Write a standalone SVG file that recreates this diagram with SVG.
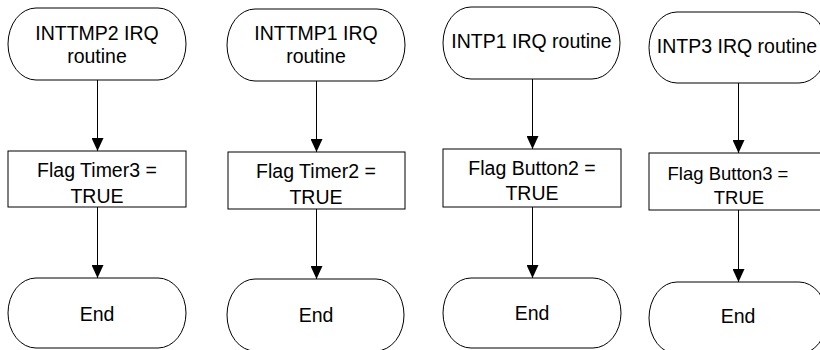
<svg xmlns="http://www.w3.org/2000/svg" width="820" height="350" viewBox="0 0 820 350">
<defs>
<style>
.t{fill:#fff;stroke:#000;stroke-width:1}
.b{fill:#fff;stroke:#000;stroke-width:1}
text{font-family:"Liberation Sans",Arial,sans-serif;font-size:19.5px;fill:#000;text-anchor:middle}
.c{stroke:#000;stroke-width:1;fill:none;marker-end:url(#ah)}
</style>
<marker id="ah" markerWidth="13" markerHeight="12" refX="13" refY="6" orient="auto" markerUnits="userSpaceOnUse" viewBox="0 0 13 12">
<path d="M0,0 L13,6 L0,12 Z" fill="#000"/>
</marker>
</defs>
<g id="connectors">
<path class="c" d="M97.5,80 V151"/>
<path class="c" d="M97.5,207 V278"/>
<path class="c" d="M316.5,81 V152"/>
<path class="c" d="M316.5,209 V279"/>
<path class="c" d="M532.5,79 V149"/>
<path class="c" d="M532.5,207 V278"/>
<path class="c" d="M738.5,83 V153"/>
<path class="c" d="M738.5,210 V282"/>
</g>
<g id="start1"><rect class="t" x="8" y="8" width="178" height="72" rx="28" ry="36"/><text x="97" y="39.5">INTTMP2 IRQ</text><text x="97" y="62.5">routine</text></g>
<g id="flag1"><rect class="b" x="8" y="151" width="178" height="56"/><text x="97" y="177">Flag Timer3 =</text><text x="97" y="203">TRUE</text></g>
<g id="end1"><rect class="t" x="8" y="278" width="178" height="70" rx="28" ry="35"/><text x="97" y="321">End</text></g>
<g id="start2"><rect class="t" x="227" y="9" width="178" height="72" rx="28" ry="36"/><text x="316" y="39.5">INTTMP1 IRQ</text><text x="316" y="62.5">routine</text></g>
<g id="flag2"><rect class="b" x="228" y="152" width="177" height="57"/><text x="316" y="178">Flag Timer2 =</text><text x="316" y="204">TRUE</text></g>
<g id="end2"><rect class="t" x="227" y="279" width="177" height="72" rx="28" ry="36"/><text x="316" y="322">End</text></g>
<g id="start3"><rect class="t" x="443" y="7" width="177" height="72" rx="28" ry="36"/><text x="531.5" y="48">INTP1 IRQ routine</text></g>
<g id="flag3"><rect class="b" x="443" y="149" width="178" height="58"/><text x="532" y="175">Flag Button2 =</text><text x="532" y="200">TRUE</text></g>
<g id="end3"><rect class="t" x="443" y="278" width="178" height="70" rx="28" ry="35"/><text x="532" y="320">End</text></g>
<g id="start4"><rect class="t" x="649" y="12" width="178" height="71" rx="28" ry="35.5"/><text x="737" y="53">INTP3 IRQ routine</text></g>
<g id="flag4"><rect class="b" x="649" y="153" width="178" height="57"/><text x="728" y="180" style="font-size:18.5px">Flag Button3 =</text><text x="739" y="204" style="font-size:18.5px">TRUE</text></g>
<g id="end4"><rect class="t" x="649" y="282" width="178" height="72" rx="28" ry="36"/><text x="738" y="323">End</text></g>
</svg>
